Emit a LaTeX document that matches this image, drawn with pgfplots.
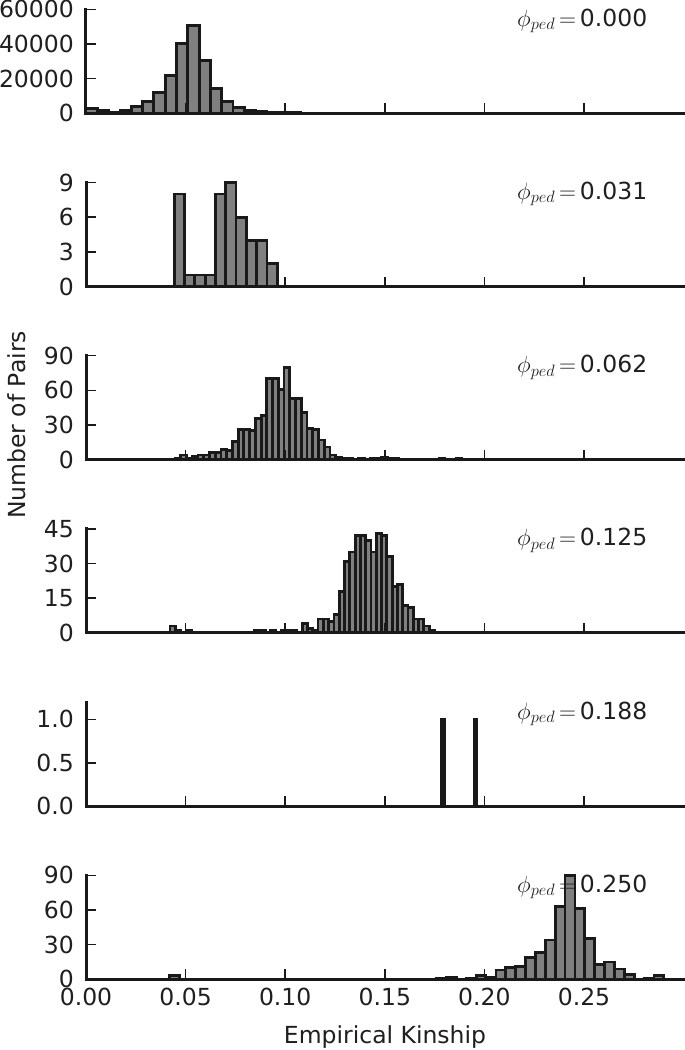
\documentclass[border=0pt]{standalone}
\usepackage{fix-cm}
\usepackage[no-math]{fontspec}
\setmainfont{DejaVu Sans}
\usepackage{pgfplots}
\pgfplotsset{compat=1.18}
\newcommand\tf{\fontsize{23.5}{28}\selectfont}
\definecolor{txt}{gray}{0.12}
\definecolor{barfill}{gray}{0.5}
\pgfplotsset{
 panel/.style={
   scale only axis, width=599pt, height=104pt,
   xmin=0, xmax=0.3007, ymin=0,
   axis lines*=left, axis on top,
   axis line style={line width=3pt, black!90, line cap=rect},
   tick align=inside, major tick length=10pt,
   tick style={line width=1.5pt, black!90},
   scaled x ticks=false, scaled y ticks=false,
   xtick={0,0.05,0.10,0.15,0.20,0.25},
   xticklabels={},
   ticklabel style={font=\tf, text=txt},
   yticklabel style={inner sep=0pt, xshift=-12pt},
   xticklabel style={inner sep=0pt, yshift=-8.5pt},
   anchor=south west, clip=false,
   enlargelimits=false,
 },
 hbar/.style={ybar interval, fill=barfill, draw=black!90, line width=2.8pt},
}
\newcommand\phitext[1]{\node[anchor=base west, font=\tf, text=txt, inner sep=0pt] at (rel axis cs:0.7195,0.837) {$\phi_{ped}\,{=}\,$#1};}
\begin{document}
\begin{tikzpicture}
\path[use as bounding box] (0pt,0pt) rectangle (685pt,-1050pt);
% panel 1
\begin{axis}[panel, at={(86pt,-113.3pt)}, ymax=60000,
  ytick={0,20000,40000,60000}, yticklabels={0,20000,40000,60000}]
\addplot[hbar] coordinates {
(0,2600) (0.00568,1800) (0.01136,700) (0.01704,1500) (0.02272,3800)
(0.0284,7000) (0.03408,12000) (0.03976,22000) (0.04544,40500) (0.05112,50500)
(0.0568,30500) (0.06248,14500) (0.06816,7000) (0.07384,3500) (0.07952,1800)
(0.0852,1000) (0.09088,600) (0.09656,400) (0.10224,250) (0.10792,150)
(0.1136,100) (0.11928,80) (0.12496,60) (0.13064,40) (0.13632,30) (0.142,0)};
\phitext{0.000}
\end{axis}
% panel 2
\begin{axis}[panel, at={(86pt,-286.5pt)}, ymax=9,
  ytick={0,3,6,9}, yticklabels={0,3,6,9}]
\addplot[hbar] coordinates {
(0.0443,8) (0.04947,1) (0.05464,1) (0.05981,1) (0.06498,8)
(0.07015,9) (0.07532,6) (0.08049,4) (0.08566,4) (0.09083,2) (0.096,0)};
\phitext{0.031}
\end{axis}
% panel 3
\begin{axis}[panel, at={(86pt,-459.7pt)}, ymax=90,
  ytick={0,30,60,90}, yticklabels={0,30,60,90}]
\addplot[hbar] coordinates {
(0.0447,1) (0.04758,4) (0.05046,1) (0.05334,3) (0.05622,4)
(0.0591,4) (0.06198,6) (0.06486,6) (0.06774,9) (0.07062,8)
(0.0735,16) (0.07638,26) (0.07926,26) (0.08214,25) (0.08502,36)
(0.0879,38) (0.09078,70) (0.09366,70) (0.09654,61) (0.09942,80)
(0.1023,53) (0.10518,53) (0.10806,41) (0.11094,27) (0.11382,26)
(0.1167,17) (0.11958,11) (0.12246,4) (0.12534,2) (0.12822,1)
(0.1311,1) (0.13398,0) (0.13686,1) (0.13974,0) (0.14262,1)
(0.1455,1) (0.14838,2) (0.15126,1) (0.15414,1) (0.15702,0)
(0.1599,0) (0.16278,0) (0.16566,0) (0.16854,0) (0.17142,0)
(0.1743,0) (0.17718,1) (0.18006,0) (0.18294,0) (0.18582,1) (0.1887,0)};
\phitext{0.062}
\end{axis}
% panel 4
\begin{axis}[panel, at={(86pt,-632.9pt)}, ymax=45,
  ytick={0,15,30,45}, yticklabels={0,15,30,45}]
\addplot[hbar] coordinates {
(0.0422,3) (0.04485,1) (0.04751,0) (0.05016,1) (0.05282,0)};
\addplot[hbar] coordinates {
(0.08466,1) (0.08732,1) (0.08997,0) (0.09263,1) (0.09528,0)
(0.09793,1) (0.10059,1) (0.10324,1) (0.1059,0) (0.10855,4)
(0.1112,2) (0.11386,1) (0.11651,6) (0.11917,6) (0.12182,5)
(0.12447,8) (0.12713,18) (0.12978,31) (0.13244,35) (0.13509,42)
(0.13774,42) (0.1404,40) (0.14305,35) (0.14571,43) (0.14836,42)
(0.15101,33) (0.15367,20) (0.15632,21) (0.15898,12) (0.16163,11)
(0.16428,6) (0.16694,6) (0.16959,3) (0.17225,1) (0.1749,0)};
\phitext{0.125}
\end{axis}
% panel 5
\begin{axis}[panel, at={(86pt,-806.1pt)}, ymax=1.2,
  ytick={0,0.5,1.0}, yticklabels={0.0,0.5,1.0}]
\addplot[hbar] coordinates {(0.1786,1) (0.1798,0)};
\addplot[hbar] coordinates {(0.1949,1) (0.1961,0)};
\phitext{0.188}
\end{axis}
% panel 6
\begin{axis}[panel, at={(86pt,-979.3pt)}, ymax=90,
  ytick={0,30,60,90}, yticklabels={0,30,60,90},
  xticklabels={0.00,0.05,0.10,0.15,0.20,0.25}]
\addplot[hbar] coordinates {(0.0421,3) (0.04706,0)};
\addplot[hbar] coordinates {
(0.17602,1) (0.18098,2) (0.18594,0) (0.1909,1) (0.19586,3)
(0.20082,2) (0.20578,8) (0.21074,10) (0.2157,11) (0.22066,19)
(0.22562,23) (0.23058,34) (0.23554,63) (0.2405,90) (0.24546,61)
(0.25042,35) (0.25538,13) (0.26034,15) (0.2653,9) (0.27026,4)
(0.27522,0) (0.28018,1) (0.28514,3) (0.2901,0)};
\phitext{0.250}
\end{axis}
\node[font=\tf, text=txt, rotate=90, anchor=base] at (25pt,-425pt) {Number of Pairs};
\node[font=\tf, text=txt, anchor=base] at (385pt,-1043pt) {Empirical Kinship};
\end{tikzpicture}
\end{document}
